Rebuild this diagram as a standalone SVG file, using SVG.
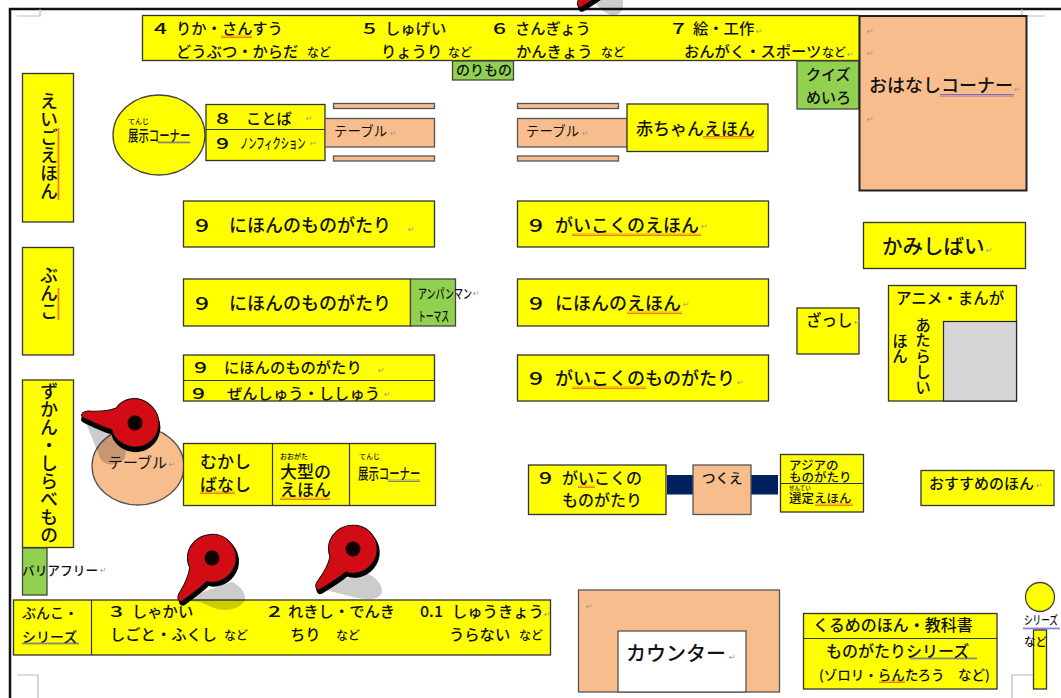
<svg xmlns="http://www.w3.org/2000/svg" width="1061" height="698" viewBox="0 0 1061 698">
<style>
text{font-family:"Noto Sans CJK JP","Noto Sans",sans-serif;fill:#111;font-weight:500}
.b{fill:#ff0;stroke:#333;stroke-width:1.3}
.g{fill:#92d050;stroke:#444;stroke-width:1.3}
.p{fill:#f8bd8c;stroke:#555;stroke-width:1.3}
.l{stroke:#333;stroke-width:1.2;fill:none}
.c{fill:none;stroke:#bbb;stroke-width:1.2}
.s{font-size:12px}.n{font-size:15.3px}.h{font-size:18px}
.v{writing-mode:vertical-rl}
.t{font-weight:400}
.m{font-family:"DejaVu Sans",sans-serif;font-size:8px;fill:#999;font-weight:400}
</style>
<defs>
<pattern id="sr" width="4" height="3" patternUnits="userSpaceOnUse"><path d="M0 2.500L1 .5L2 2.500L3 .5L4 2.500" fill="none" stroke="#e22" stroke-width=".6"/></pattern>
<pattern id="sb" width="4" height="3" patternUnits="userSpaceOnUse"><path d="M0 2.500L1 .5L2 2.500L3 .5L4 2.500" fill="none" stroke="#33c" stroke-width=".6"/></pattern>
<pattern id="srv" width="3" height="4" patternUnits="userSpaceOnUse"><path d="M2.500 0L.5 1L2.500 2L.5 3L2.500 4" fill="none" stroke="#e22" stroke-width=".6"/></pattern>
<path id="pinb" d="M-54 0C-54 -3 -50 -5 -46 -5C-36 -6 -28 -8 -21 -12C-15 -24 -3 -25 3 -24C14 -22 24 -12 24 0C24 14 13 24 0 24C-10 24 -19 18 -22 10C-30 9 -40 6 -50 3C-53 2.500 -54 1 -54 0Z"/>
</defs>
<rect width="1061" height="698" fill="#fff"/>
<g id="page">
<path d="M10 698V9H1061" fill="none" stroke="#111" stroke-width="2.500"/>
<path class="c" d="M17 16H40V9M1022 9V16H1045M17 675H38V698M1012 698V675H1045"/>
</g>
<g id="pin1shadow"><path d="M590 0C600 6 603 14 612 15C620 16 624 10 623 0Z" fill="#000" opacity=".2"/></g>
<g id="top-band">
<rect class="b" x="142.500" y="15.500" width="717" height="45"/>
<text class="n" x="154" y="34" textLength="13" lengthAdjust="spacingAndGlyphs">4</text><text class="n" x="176" y="34">りか・さんすう</text>
<text class="n" x="363" y="34" textLength="13" lengthAdjust="spacingAndGlyphs">5</text><text class="n" x="385" y="34">しゅげい</text>
<text class="n" x="493" y="34" textLength="13" lengthAdjust="spacingAndGlyphs">6</text><text class="n" x="515" y="34">さんぎょう</text>
<text class="n" x="672" y="34" textLength="13" lengthAdjust="spacingAndGlyphs">7</text><text class="n" x="693" y="34">絵・工作</text>
<text class="n" x="176" y="57">どうぶつ・からだ</text><text class="s" x="307" y="57">など</text>
<text class="n" x="381" y="57">りょうり</text><text class="s" x="448" y="57">など</text>
<text class="n" x="516" y="57">かんきょう</text><text class="s" x="601" y="57">など</text>
<text class="n" x="684" y="57">おんがく・スポーツ</text><text class="s" x="822" y="57">など</text>
<rect x="221" y="35" width="31" height="3" fill="url(#sr)"/>
<text class="m" x="756" y="34">↵</text><text class="m" x="847" y="57">↵</text>
</g>
<g id="norimono"><rect class="g" x="452.500" y="61" width="61" height="19"/><text x="456" y="75" font-size="14">のりもの</text></g>
<g id="quiz"><rect class="g" x="797" y="61" width="62" height="48"/><text x="806" y="80" font-size="15">クイズ</text><text x="806" y="103" font-size="15">めいろ</text></g>
<g id="ohanashi"><rect x="859.500" y="16" width="167" height="174.500" fill="#f8bd8c" stroke="#222" stroke-width="2"/><text x="869" y="92" font-size="18" font-weight="400">おはなしコーナー</text><rect x="940" y="94" width="74" height="3" fill="url(#sb)"/><text class="m" x="867" y="34">↵</text><text class="m" x="867" y="56">↵</text><text class="m" x="867" y="122">↵</text><text class="m" x="1014" y="92">↵</text></g>
<g id="ehon-yoko"><rect class="b" x="22.500" y="73.500" width="51" height="148.500"/><text class="h v" x="49" y="92">えいごえほん</text><rect x="57" y="128" width="3" height="72" fill="url(#srv)"/></g>
<g id="bunko"><rect class="b" x="22.500" y="247.500" width="51" height="107.500"/><text class="h v" x="49" y="266">ぶんこ</text><rect x="57" y="288" width="3" height="32" fill="url(#srv)"/></g>
<g id="zukan"><rect class="b" x="22.500" y="380" width="51" height="167.500"/><text class="h v" x="49" y="382">ずかん・しらべもの</text></g>
<g id="barrier"><rect class="g" x="22.500" y="548" width="24.500" height="47"/><text x="22" y="575" font-size="12.700" font-weight="400">バリアフリー</text><text class="m" x="100" y="573">↵</text></g>
<g id="tenji-circle"><ellipse cx="159" cy="135" rx="46" ry="40" fill="#ff0" stroke="#444" stroke-width="1.300"/><text x="128" y="124" font-size="7">てんじ</text><text transform="translate(128 141) scale(1 1.450)" font-size="10.400">展示コーナー</text><rect x="158" y="141" width="32" height="3" fill="url(#sb)"/></g>
<g id="kotoba"><rect class="b" x="206" y="104.500" width="119" height="56"/><path class="l" d="M206 129.500H325"/><text class="n" x="216" y="124" textLength="13" lengthAdjust="spacingAndGlyphs">8</text><text class="n" x="246" y="124">ことば</text><text class="n" x="216" y="149" textLength="13" lengthAdjust="spacingAndGlyphs">9</text><text transform="translate(240 148) scale(1 1.700)" font-size="8.250">ノンフィクション</text><text class="m" x="306" y="121">↵</text><text class="m" x="310" y="146">↵</text></g>
<g id="table-left"><rect class="p" x="333.500" y="103.500" width="101" height="5"/><rect class="p" x="325" y="118.500" width="109.500" height="28.500"/><rect class="p" x="333.500" y="156" width="101" height="5"/><text class="t" x="334" y="136" font-size="13.500">テーブル</text><text class="m" x="390" y="136">↵</text></g>
<g id="table-right"><rect class="p" x="517.500" y="103.500" width="101" height="5"/><rect class="p" x="517.500" y="118.500" width="110" height="28.500"/><rect class="p" x="517.500" y="156" width="101" height="5"/><text class="t" x="526" y="136" font-size="13.500">テーブル</text><text class="m" x="582" y="136">↵</text></g>
<g id="akachan"><rect class="b" x="627" y="104" width="141" height="47.500"/><text x="636" y="135" font-size="17">赤ちゃんえほん</text><rect x="703" y="136" width="51" height="3" fill="url(#sr)"/></g>
<g id="nihon1"><rect class="b" x="183.500" y="201" width="251" height="46"/><text class="h" x="195" y="232" textLength="14" lengthAdjust="spacingAndGlyphs">9</text><text class="h" x="229" y="232">にほんのものがたり</text><text class="m" x="408" y="232">↵</text></g>
<g id="nihon2"><rect class="b" x="183.500" y="279" width="227" height="47"/><text class="h" x="195" y="310" textLength="14" lengthAdjust="spacingAndGlyphs">9</text><text class="h" x="229" y="310">にほんのものがたり</text></g>
<g id="anpanman"><rect class="g" x="410.500" y="279" width="45" height="47"/><text transform="translate(418 298) scale(1 1.450)" font-size="9">アンパンマン</text><text transform="translate(418 321) scale(1 1.700)" font-size="7.750">トーマス</text><text class="m" x="473" y="296">↵</text></g>
<g id="nihon3"><rect class="b" x="183.500" y="355" width="251" height="46"/><path class="l" d="M183.500 380.500H434.500"/><text class="n" x="194" y="373" textLength="13" lengthAdjust="spacingAndGlyphs">9</text><text class="n" x="224" y="373">にほんのものがたり</text><text class="n" x="192" y="399" textLength="13" lengthAdjust="spacingAndGlyphs">9</text><text class="n" x="227" y="399">ぜんしゅう・ししゅう</text><text class="m" x="378" y="373">↵</text><text class="m" x="384" y="397">↵</text></g>
<g id="gaikoku-ehon"><rect class="b" x="517.500" y="201" width="251" height="46"/><text class="h" x="529" y="232" textLength="14" lengthAdjust="spacingAndGlyphs">9</text><text class="h" x="555" y="232">がいこくのえほん</text><rect x="572" y="233" width="129" height="3" fill="url(#sr)"/><text class="m" x="701" y="229">↵</text></g>
<g id="nihon-ehon"><rect class="b" x="517.500" y="279" width="251" height="47"/><text class="h" x="529" y="310" textLength="14" lengthAdjust="spacingAndGlyphs">9</text><text class="h" x="555" y="310">にほんのえほん</text><rect x="627" y="311" width="55" height="3" fill="url(#sr)"/><text class="m" x="683" y="307">↵</text></g>
<g id="gaikoku-mono"><rect class="b" x="517.500" y="355" width="251" height="46"/><text class="h" x="529" y="385" textLength="14" lengthAdjust="spacingAndGlyphs">9</text><text class="h" x="555" y="385">がいこくのものがたり</text><rect x="572" y="386" width="74" height="3" fill="url(#sr)"/><text class="m" x="737" y="385">↵</text></g>
<g id="zasshi"><rect class="b" x="797" y="308" width="62" height="46"/><text x="806" y="326" font-size="15.500">ざっし</text><text class="m" x="854" y="325">↵</text></g>
<g id="kamishibai"><rect class="b" x="863.500" y="222.500" width="162" height="46"/><text x="882" y="254" font-size="20.500">かみしばい</text><text class="m" x="986" y="253">↵</text></g>
<g id="anime"><rect class="b" x="888.500" y="285.500" width="128" height="115.500"/><rect x="943.500" y="321.500" width="73" height="79.500" fill="#d6d6d6" stroke="#222" stroke-width="1.200"/><text x="896" y="304" font-size="15.500">アニメ・まんが</text><text class="v" x="923" y="317" font-size="15.600">あたらしい</text><text class="v" x="900" y="333" font-size="15.600">ほん</text></g>
<g id="table-round"><ellipse cx="138" cy="466" rx="46" ry="39" fill="#f8bd8c" stroke="#555" stroke-width="1.300"/><text class="t" x="108" y="468" font-size="15">テーブル</text><text class="m" x="169" y="467">↵</text></g>
<g id="mukashi"><rect class="b" x="183.500" y="443.500" width="252" height="62"/><path class="l" d="M272.500 443.500V505.500M349.500 443.500V505.500"/>
<text x="200" y="468" font-size="17">むかし</text><text x="200" y="491" font-size="17">ばなし</text><rect x="200" y="491" width="35" height="3" fill="url(#sr)"/>
<text x="280" y="459" font-size="7">おおがた</text><text x="280" y="478" font-size="17">大型の</text><text x="280" y="496" font-size="17">えほん</text><rect x="280" y="497" width="50" height="3" fill="url(#sr)"/>
<text x="359" y="459" font-size="7">てんじ</text><text transform="translate(358 479) scale(1 1.450)" font-size="10.400">展示コーナー</text><rect x="388" y="479" width="32" height="3" fill="url(#sb)"/></g>
<g id="gaikoku2"><rect class="b" x="528.500" y="465" width="137.500" height="49.500"/><text x="539" y="484" font-size="16" textLength="13" lengthAdjust="spacingAndGlyphs">9</text><text x="562" y="484" font-size="16">がいこくの</text><text x="562" y="506" font-size="16">ものがたり</text><rect x="578" y="485" width="17" height="3" fill="url(#sr)"/></g>
<g id="tsukue"><rect x="667" y="475" width="26" height="19.500" fill="#002060"/><rect x="751" y="475" width="27" height="19.500" fill="#002060"/><rect class="p" x="693" y="465" width="58" height="49.500"/><text x="702" y="483" font-size="13.500">つくえ</text></g>
<g id="asia"><rect class="b" x="780.500" y="454.500" width="83" height="57.500"/><path class="l" d="M780.500 483.500H863.500"/><text x="789" y="470" font-size="12.500">アジアの</text><text x="789" y="482" font-size="12.500">ものがたり</text><text x="789" y="490" font-size="5.500">せんてい</text><text x="789" y="503" font-size="12.500" font-weight="700">選定えほん</text><rect x="815" y="503" width="38" height="3" fill="url(#sr)"/></g>
<g id="osusume"><rect class="b" x="921" y="470.500" width="133" height="35"/><text x="929" y="489" font-size="15">おすすめのほん</text><text class="m" x="1036" y="488">↵</text></g>
<g id="bottom-band"><rect class="b" x="13.500" y="600" width="537" height="55"/><path class="l" d="M91.500 600V655"/>
<text x="22" y="618" font-size="14">ぶんこ・</text><text x="22" y="642" font-size="14">シリーズ</text><rect x="22" y="642" width="57" height="3" fill="url(#sb)"/>
<text class="n" x="110" y="617" textLength="13" lengthAdjust="spacingAndGlyphs">3</text><text class="n" x="132" y="617">しゃかい</text><text class="n" x="110" y="640">しごと・ふくし</text><text class="s" x="224" y="640">など</text>
<text class="n" x="268" y="617" textLength="13" lengthAdjust="spacingAndGlyphs">2</text><text class="n" x="288" y="617">れきし・でんき</text><text class="n" x="290" y="640">ちり</text><text class="s" x="336" y="640">など</text>
<text class="n" x="420" y="617" textLength="23" lengthAdjust="spacingAndGlyphs">0.1</text><text class="n" x="452" y="617">しゅうきょう</text><text class="n" x="449" y="640">うらない</text><text class="s" x="519" y="640">など</text>
<text class="m" x="544" y="617">↵</text></g>
<g id="counter"><rect class="p" x="578.500" y="590" width="201" height="102"/><rect x="618" y="631" width="128" height="61" fill="#fff" stroke="#555" stroke-width="1.300"/><text x="626" y="661" font-size="20">カウンター</text><text class="m" x="729" y="660">↵</text><text class="m" x="586" y="609">↵</text></g>
<g id="kurume"><rect class="b" x="803.500" y="613.500" width="193.500" height="75.500"/><path class="l" d="M803.500 638.500H997"/><text x="813" y="631" font-size="16">くるめのほん・教科書</text><text x="826" y="657" font-size="16">ものがたりシリーズ</text><text x="819" y="680" font-size="13.500">(ゾロリ・らんたろう　など)</text><rect x="879" y="680" width="26" height="3" fill="url(#sr)"/><rect x="910" y="657" width="67" height="3" fill="url(#sb)"/></g>
<g id="series"><circle cx="1040" cy="597" r="14.500" fill="#ff0" stroke="#444" stroke-width="1.300"/><rect class="b" x="1033.500" y="630" width="13" height="59"/><text transform="translate(1024 625) scale(1 1.400)" font-size="8.600">シリーズ</text><rect x="1023" y="627" width="37" height="3" fill="url(#sb)"/><text x="1024" y="646" font-size="11.500">など</text></g>
<g id="pins">
<path d="M84 418L130 430L125 458C118 467 104 466 100 458Z" fill="#000" opacity=".2"/>
<path d="M179 600L200 602L214 608C225 612 240 610 245 600C246 592 240 586 232 582Z" fill="#000" opacity=".2"/>
<path d="M318 588L357 598C368 600 380 600 382 592C382 584 376 576 364 573Z" fill="#000" opacity=".2"/>
<g transform="translate(135 423) rotate(8.700)"><use href="#pinb" x="1" y="4" fill="#000" stroke="#000" stroke-width="2"/><use href="#pinb" fill="#d20c14" stroke="#111" stroke-width="1"/><circle r="7.500" fill="#100"/></g>
<g transform="translate(212 558) rotate(-52.700)"><use href="#pinb" x="-1.500" y="3.500" fill="#000" stroke="#000" stroke-width="2"/><use href="#pinb" fill="#d20c14" stroke="#111" stroke-width="1"/><circle r="7.500" fill="#100"/></g>
<g transform="translate(353 549) rotate(-48)"><use href="#pinb" x="-1.500" y="3.500" fill="#000" stroke="#000" stroke-width="2"/><use href="#pinb" fill="#d20c14" stroke="#111" stroke-width="1"/><circle r="7.500" fill="#100"/></g>
<g transform="translate(614 -34) rotate(-49)"><use href="#pinb" x="-1.500" y="3.500" fill="#000" stroke="#000" stroke-width="2"/><use href="#pinb" fill="#d20c14" stroke="#111" stroke-width="1"/></g>
</g>
</svg>
